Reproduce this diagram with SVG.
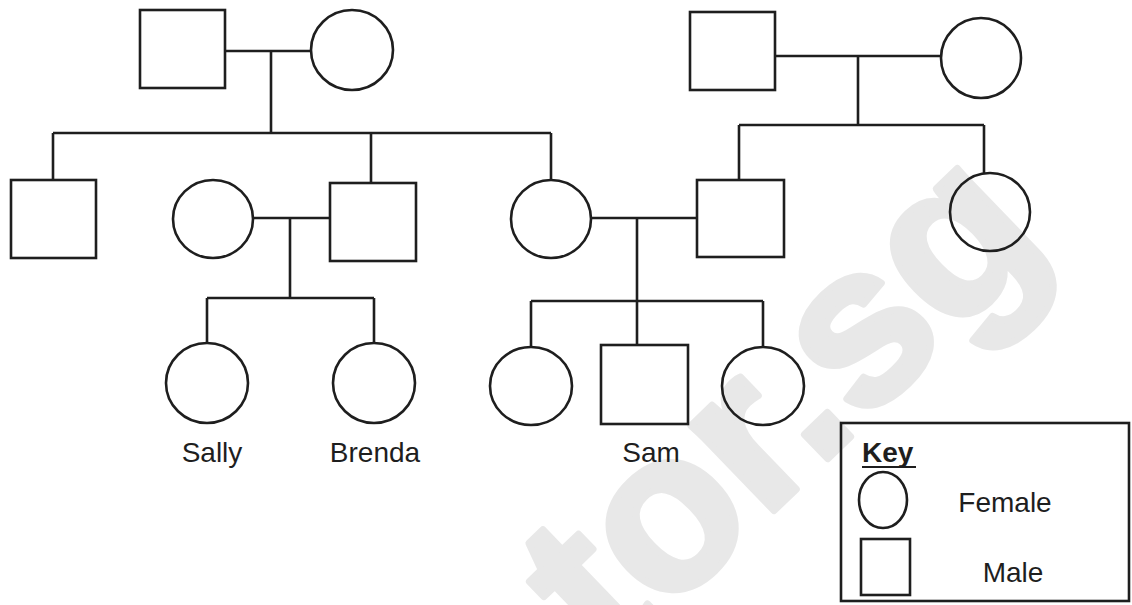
<svg xmlns="http://www.w3.org/2000/svg" width="1132" height="605" viewBox="0 0 1132 605">
<style>
.s{fill:none;stroke:#1e1e1e;stroke-width:2.6}
.n{fill:none;stroke:#1e1e1e;stroke-width:2.6}
.t{font-family:"Liberation Sans",Arial,sans-serif;font-size:28px;fill:#1e1e1e;text-anchor:middle}
.wm{font-family:"Liberation Sans",Arial,sans-serif;font-size:225px;font-weight:bold;fill:#e8e8e8;stroke:#e8e8e8;stroke-width:7;stroke-linejoin:round}
</style>
<rect width="1132" height="605" fill="#fff"/>
<text class="wm" x="610" y="669" transform="rotate(-44 610 669)">tor.sg</text>
<g id="connectors" class="s">
<path d="M225 51H311M271 51V133M53 133H551M53 133V180M371 133V183M551 133V180"/>
<path d="M775 56H941M858 56V125M739 125H984M739 125V180M984 125V173"/>
<path d="M253 218H330M290 218V298M207 298H374M207 298V343M374 298V343"/>
<path d="M592 218H697M637 218V345M531 301H763M531 301V347M763 301V347"/>
</g>
<g id="gp1-male"><rect class="n" x="140" y="10" width="85" height="78"/></g>
<g id="gp1-female"><ellipse class="n" cx="352" cy="50" rx="41" ry="40"/></g>
<g id="gp2-male"><rect class="n" x="690" y="12" width="85" height="78"/></g>
<g id="gp2-female"><ellipse class="n" cx="981" cy="58" rx="40" ry="40"/></g>
<g id="uncle"><rect class="n" x="11" y="180" width="85" height="78"/></g>
<g id="aunt-inlaw"><ellipse class="n" cx="213" cy="219" rx="40" ry="39"/></g>
<g id="father1"><rect class="n" x="330" y="183" width="86" height="78"/></g>
<g id="mother2"><ellipse class="n" cx="551" cy="219" rx="40" ry="39"/></g>
<g id="father2"><rect class="n" x="697" y="180" width="87" height="77"/></g>
<g id="aunt2"><ellipse class="n" cx="990" cy="212" rx="40" ry="39"/></g>
<g id="sally"><ellipse class="n" cx="207" cy="383" rx="41" ry="40"/><text class="t" x="212" y="462">Sally</text></g>
<g id="brenda"><ellipse class="n" cx="374" cy="383" rx="41" ry="40"/><text class="t" x="375" y="462">Brenda</text></g>
<g id="sister1"><ellipse class="n" cx="531" cy="386" rx="41" ry="39"/></g>
<g id="sam"><rect class="n" x="601" y="345" width="87" height="79"/><text class="t" x="651" y="462">Sam</text></g>
<g id="sister2"><ellipse class="n" cx="763" cy="386" rx="41" ry="39"/></g>
<g id="key">
<rect x="841" y="423" width="288" height="178" fill="#fff" fill-opacity="0" stroke="#1e1e1e" stroke-width="2.6"/>
<text class="t" x="862" y="462" style="text-anchor:start;font-weight:bold">Key</text>
<line class="s" x1="862" y1="467" x2="916" y2="467" style="stroke-width:2"/>
<ellipse class="n" cx="883" cy="500" rx="24" ry="28"/>
<rect class="n" x="861" y="539" width="49" height="56"/>
<text class="t" x="1005" y="512">Female</text>
<text class="t" x="1013" y="582">Male</text>
</g>
</svg>
